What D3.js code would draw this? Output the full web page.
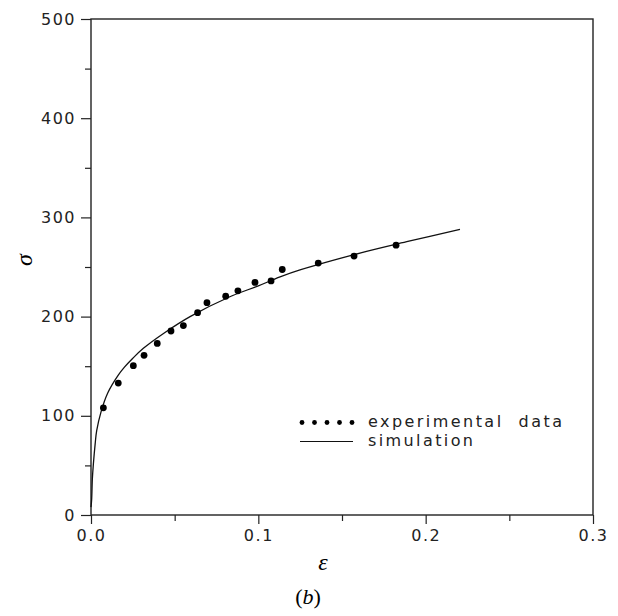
<!DOCTYPE html>
<html>
<head>
<meta charset="utf-8">
<script src="https://cdn.jsdelivr.net/npm/d3@7"></script>
<style>
    body { margin: 0; background: #fff; }
    svg { display: block; }
    .tick text { font-family: "DejaVu Sans", sans-serif; font-size: 16px; fill: #222; }
    .domain { display: none; }
</style>
</head>
<body>
<div id="chart"></div>
<script>
    // experimental points (strain, stress)
    const expStrain = [0.0074, 0.0163, 0.0253, 0.0317, 0.0396, 0.0478, 0.0552, 0.0637, 0.0693,
        0.0805, 0.0878, 0.0980, 0.1076, 0.1143, 0.1358, 0.1572, 0.1823];
    const expStress = [108, 133, 150.5, 161, 173, 185.5, 191, 204, 214,
        220.5, 226, 234.5, 236, 247.5, 254, 261, 272];

    // simulation curve
    const simStrain = [0.0, 0.0004, 0.0008, 0.0014, 0.0025, 0.0034, 0.006, 0.010, 0.0163, 0.020,
        0.025, 0.0313, 0.0442, 0.0592, 0.083, 0.100, 0.113, 0.1249, 0.1607, 0.190, 0.2205];
    const simStress = [8, 16, 36, 51, 72, 85, 104, 123, 141, 149,
        158, 168, 184, 200, 220, 231, 240, 247, 264, 276, 288];

    const xMajor = [0, 0.1, 0.2, 0.3];
    const xMinor = [0.05, 0.15, 0.25];
    const yMajor = [0, 100, 200, 300, 400, 500];
    const yMinor = [50, 150, 250, 350, 450];

    const width = 618, height = 616;
    const plotLeft = 91, plotRight = 593, plotTop = 19, plotBottom = 515;

    const svg = d3.select("#chart").append("svg")
        .attr("width", width)
        .attr("height", height);

    const x = d3.scaleLinear().domain([0, 0.3]).range([plotLeft, plotRight]);
    const y = d3.scaleLinear().domain([0, 500]).range([plotBottom, plotTop]);

    // frame
    svg.append("rect")
        .attr("x", plotLeft).attr("y", plotTop)
        .attr("width", plotRight - plotLeft).attr("height", plotBottom - plotTop)
        .attr("fill", "none")
        .attr("stroke", "#222")
        .attr("stroke-width", 1.4);

    // x axis
    svg.append("g").attr("transform", `translate(0,${plotBottom})`)
        .call(d3.axisBottom(x).tickValues(xMajor).tickSize(9).tickPadding(6)
            .tickFormat(d3.format(".1f")));
    svg.append("g").attr("transform", `translate(0,${plotBottom})`)
        .call(d3.axisBottom(x).tickValues(xMinor).tickSize(6).tickFormat(""));

    // y axis
    svg.append("g").attr("transform", `translate(${plotLeft},0)`)
        .call(d3.axisLeft(y).tickValues(yMajor).tickSize(10).tickPadding(5));
    svg.append("g").attr("transform", `translate(${plotLeft},0)`)
        .call(d3.axisLeft(y).tickValues(yMinor).tickSize(6).tickFormat(""));

    svg.selectAll(".tick line").attr("stroke", "#222").attr("stroke-width", 1.2);
    svg.selectAll(".tick text").attr("letter-spacing", "1.5px");

    // simulation line
    const sim = simStrain.map((e, i) => [e, simStress[i]]);
    svg.append("path")
        .datum(sim)
        .attr("fill", "none")
        .attr("stroke", "#111")
        .attr("stroke-width", 1.3)
        .attr("d", d3.line().x(d => x(d[0])).y(d => y(d[1])).curve(d3.curveCatmullRom.alpha(0.5)));

    // experimental points
    const exp = expStrain.map((e, i) => [e, expStress[i]]);
    svg.selectAll(".pt")
        .data(exp)
        .enter()
        .append("circle")
        .attr("class", "pt")
        .attr("cx", d => x(d[0]))
        .attr("cy", d => y(d[1]))
        .attr("r", 3.4)
        .attr("fill", "#000");

    // legend
    const legendDots = [0, 1, 2, 3, 4];
    svg.selectAll(".ldot")
        .data(legendDots)
        .enter()
        .append("circle")
        .attr("class", "ldot")
        .attr("cx", d => 302 + d * 12.5)
        .attr("cy", 422.5)
        .attr("r", 2.4)
        .attr("fill", "#000");
    svg.append("line")
        .attr("x1", 300).attr("x2", 353)
        .attr("y1", 441.5).attr("y2", 441.5)
        .attr("stroke", "#111").attr("stroke-width", 1.2);

    const legendFont = "\"DejaVu Sans\", sans-serif";
    svg.append("text")
        .attr("x", 368).attr("y", 427)
        .attr("font-family", legendFont).attr("font-size", 16)
        .attr("fill", "#222")
        .attr("textLength", 194).attr("lengthAdjust", "spacing")
        .attr("xml:space", "preserve")
        .text("experimental  data");
    svg.append("text")
        .attr("x", 368).attr("y", 446)
        .attr("font-family", legendFont).attr("font-size", 16)
        .attr("fill", "#222")
        .attr("textLength", 105).attr("lengthAdjust", "spacing")
        .text("simulation");

    // axis titles
    svg.append("text")
        .attr("transform", "translate(32,260) rotate(-90)")
        .attr("text-anchor", "middle")
        .attr("font-family", "\"Liberation Serif\", serif")
        .attr("font-style", "italic")
        .attr("font-size", 24)
        .text("σ");
    svg.append("text")
        .attr("x", 323).attr("y", 570)
        .attr("text-anchor", "middle")
        .attr("font-family", "\"Liberation Serif\", serif")
        .attr("font-style", "italic")
        .attr("font-size", 24)
        .text("ε");

    // panel label
    const lbl = svg.append("text")
        .attr("x", 308).attr("y", 604)
        .attr("text-anchor", "middle")
        .attr("font-family", "\"Liberation Serif\", serif")
        .attr("font-size", 22);
    lbl.append("tspan").text("(");
    lbl.append("tspan").attr("font-style", "italic").text("b");
    lbl.append("tspan").text(")");
</script>
</body>
</html>
